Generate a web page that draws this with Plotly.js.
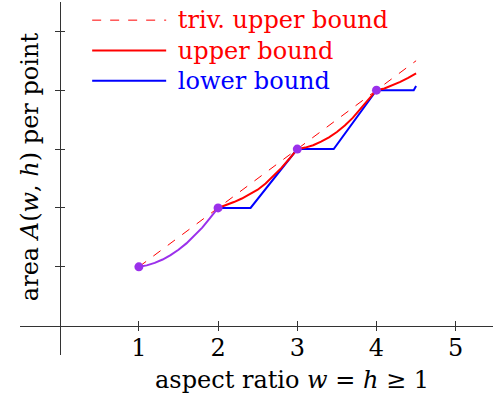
<!DOCTYPE html>
<html>
<head>
<meta charset="utf-8">
<script src="https://cdn.plot.ly/plotly-3.0.1.min.js"></script>
<style>html,body{margin:0;padding:0;background:#fff;}#chart{width:493px;height:400px;}</style>
</head>
<body>
<div id="chart"></div>
<script>
// ---- data ----
var xTicks = [1, 2, 3, 4, 5];
var yTicks = [1, 2, 3, 4, 5];

var trivX = [1, 4.5];
var trivY = [1, 4.5];

var upperX = [2.0, 2.1, 2.2, 2.3, 2.4, 2.5, 2.6, 2.7, 2.8, 2.9, 3.0,
              3.1, 3.2, 3.3, 3.4, 3.5, 3.6, 3.7, 3.8, 3.9, 4.0,
              4.1, 4.2, 4.3, 4.4, 4.5];
var upperY = [2.0, 2.045, 2.10, 2.16, 2.23, 2.31, 2.415, 2.54, 2.68, 2.835, 3.0,
              3.025, 3.065, 3.125, 3.2, 3.29, 3.4, 3.53, 3.69, 3.845, 4.0,
              4.03, 4.08, 4.14, 4.21, 4.285];

var lowerX = [2, 2.41, 3, 3.46, 4, 4.47, 4.5];
var lowerY = [2, 2, 3, 3, 4, 4, 4.07];

var bothX = [1.0, 1.1, 1.2, 1.3, 1.4, 1.5, 1.6, 1.7, 1.8, 1.9, 2.0];
var bothY = [1.0, 1.024, 1.066, 1.124, 1.198, 1.29, 1.398, 1.524, 1.666, 1.83, 2.0];

var exactX = [1, 2, 3, 4];
var exactY = [1, 2, 3, 4];

var names = ['triv. upper bound', 'upper bound', 'lower bound'];

// ---- styling ----
var RED = '#ff0000', BLUE = '#0000ff', PURPLE = '#9b30eb';
var FONT = 'DejaVu Serif';
var AX = '#333333';
var xr = [-0.501, 5.471], yr = [-0.498, 5.498];
var xPos = 0.0831, yPos = 0.0839;

function col(c, t) { return '&nbsp;<span style="color:' + c + ';font-size:24px">' + t + '</span>'; }

var traces = [
  {x: trivX, y: trivY, mode: 'lines', name: col(RED, names[0]), legendrank: 1,
   line: {color: RED, width: 1, dash: '9px,9px'}},
  {x: lowerX, y: lowerY, mode: 'lines', name: col(BLUE, names[2]), legendrank: 3,
   line: {color: BLUE, width: 2}},
  {x: upperX, y: upperY, mode: 'lines', name: col(RED, names[1]), legendrank: 2,
   line: {color: RED, width: 2}},
  {x: bothX, y: bothY, mode: 'lines', showlegend: false,
   line: {color: PURPLE, width: 2}},
  {x: exactX, y: exactY, mode: 'markers', showlegend: false, xaxis: 'x2', yaxis: 'y2',
   marker: {color: PURPLE, size: 9}}
];

var common = {
  showgrid: false, zeroline: false, showline: true, linecolor: AX, linewidth: 1,
  tickcolor: AX, tickwidth: 1, ticklen: 4.5, anchor: 'free', fixedrange: true,
  tickmode: 'array'
};

var layout = {
  width: 493, height: 400,
  margin: {l: 20, r: 0, t: 0, b: 45, pad: 0},
  paper_bgcolor: '#fff', plot_bgcolor: 'rgba(0,0,0,0)',
  font: {family: FONT, size: 24, color: '#000'},
  showlegend: true,
  legend: {x: 0.142, y: 1.006, xanchor: 'left', yanchor: 'top', bgcolor: 'rgba(0,0,0,0)',
           font: {family: FONT, size: 21}, itemwidth: 74, tracegroupgap: 0},
  xaxis: Object.assign({}, common, {range: xr, position: xPos, ticks: 'outside',
           tickvals: xTicks, ticktext: xTicks.map(String), ticklabelstandoff: -4,
           tickfont: {family: FONT, size: 24, color: '#000'}}),
  yaxis: Object.assign({}, common, {range: yr, position: yPos, ticks: 'outside',
           tickvals: yTicks, showticklabels: false}),
  xaxis2: Object.assign({}, common, {range: xr, position: xPos, ticks: 'outside', side: 'top',
           overlaying: 'x', showline: false, tickvals: xTicks, showticklabels: false}),
  yaxis2: Object.assign({}, common, {range: yr, position: yPos, ticks: 'outside', side: 'right',
           overlaying: 'y', showline: false, tickvals: yTicks, showticklabels: false}),
  annotations: [
    {text: 'aspect ratio <i>w</i> = <i>h</i> ≥ 1', xref: 'paper', yref: 'paper',
     x: 0.576, y: -0.0704, xanchor: 'center', yanchor: 'middle', showarrow: false,
     font: {family: FONT, size: 24, color: '#000'}},
    {text: 'area <i>A</i>(<i>w</i>, <i>h</i>) per point', xref: 'paper', yref: 'paper',
     x: 0.0211, y: 0.535, xanchor: 'center', yanchor: 'middle', textangle: -90, showarrow: false,
     font: {family: FONT, size: 24, color: '#000'}}
  ]
};

Plotly.newPlot('chart', traces, layout, {staticPlot: true, displayModeBar: false});
</script>
</body>
</html>
